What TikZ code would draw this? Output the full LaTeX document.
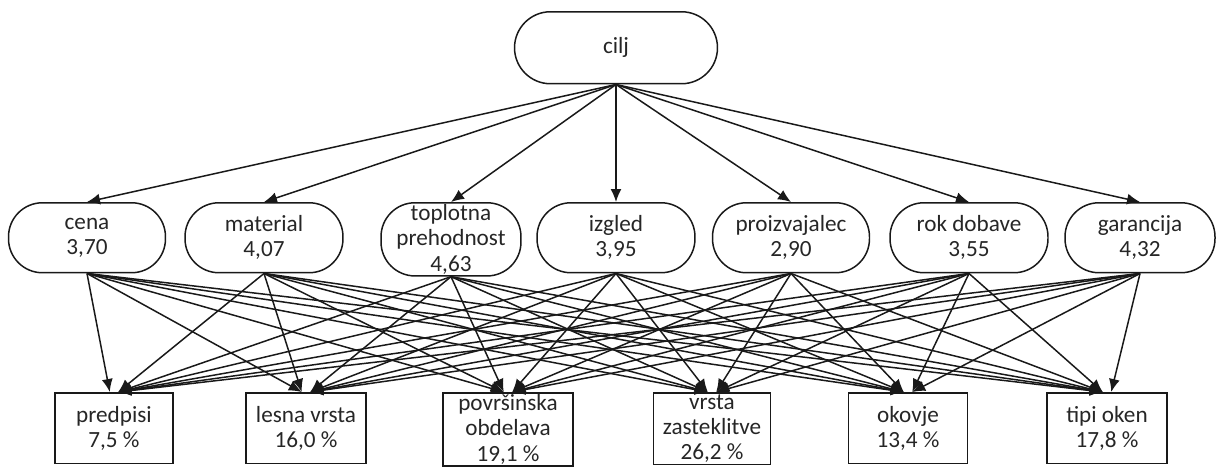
\documentclass[tikz,border=0pt]{standalone}
\usepackage{fontspec}
\setmainfont{Carlito}
\usetikzlibrary{arrows.meta,calc}

\begin{document}
\begin{tikzpicture}[x=0.02cm, y=-0.02cm, line width=0.85pt, draw=black!90,
  every node/.style={font=\fontsize{13.2}{14.4}\selectfont, text=black!85},
  krit/.style={draw, rounded corners=0.68cm, align=center, minimum height=1.4cm, inner sep=1pt, anchor=north},
  alt/.style={draw, align=center, minimum height=1.42cm, inner sep=1pt, anchor=north}]

\useasboundingbox (0,0) rectangle (1216,468);

% Cilj na vrhu
\node [krit, minimum width=4.06cm, minimum height=1.44cm, rounded corners=0.72cm] (cilj) at (616,11) {cilj};

% Kriteriji z utezmi
\foreach \i/\x/\w/\t in {1/87/3.14/{cena\\3,70}, 2/264/3.16/{material\\4,07},
    3/451/2.8/{toplotna\\prehodnost\\4,63}, 4/616/3.16/{izgled\\3,95},
    5/791/3.14/{proizvajalec\\2,90}, 6/969/3.16/{rok dobave\\3,55}, 7/1140/3.0/{garancija\\4,32}}
  \node [krit, minimum width=\w cm] (k\i) at (\x,202) {\t};

% Alternative (deleži)
\foreach \j/\x/\w/\t in {1/114/2.36/{predpisi\\7,5 \%}, 2/306/2.4/{lesna vrsta\\16,0 \%},
    3/508/2.6/{površinska\\obdelava\\19,1 \%}, 4/712/2.34/{vrsta\\zasteklitve\\26,2 \%},
    5/908/2.38/{okovje\\13,4 \%}, 6/1107/2.4/{tipi oken\\17,8 \%}}
  \node [alt, minimum width=\w cm] (a\j) at (\x,392) {\t};

% Povezave
\foreach \i in {1,...,7}
  \draw [->,>={Latex[length=2.6mm,width=2.2mm]}] (cilj.south) -- (k\i.north);
% konice z leve in z desne se ustavijo malo narazen
\foreach \i in {1,...,7}
  \foreach \j in {1,...,6}
    \draw [->,>={Latex[length=2.6mm,width=2.2mm]}]
      let \p1=(k\i.south), \p2=(a\j.north), \n1={sign(\x1-\x2)*2.4pt} in
      (\p1) -- (\x2+\n1,\y2);

\end{tikzpicture}
\end{document}
